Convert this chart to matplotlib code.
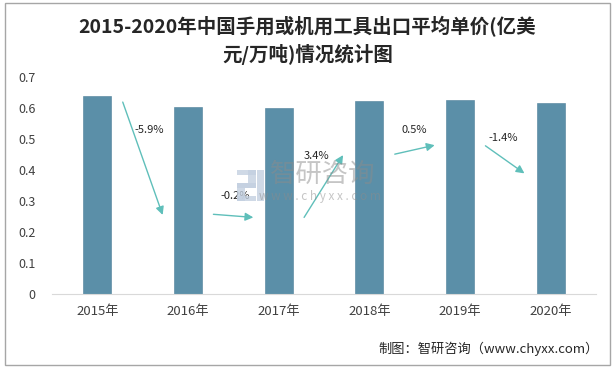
import matplotlib
matplotlib.use('Agg')
import matplotlib.pyplot as plt
from matplotlib.patches import Rectangle

plt.rcParams['font.family'] = ['Noto Sans CJK SC', 'DejaVu Sans']

years = ['2015年', '2016年', '2017年', '2018年', '2019年', '2020年']
prices = [0.641, 0.603, 0.602, 0.6225, 0.6255, 0.617]
growth_labels = ['-5.9%', '-0.2%', '3.4%', '0.5%', '-1.4%']

# arrow start, arrow end, label position (data coords)
arrow_pos = [
    ((0.28, 0.62), (0.72, 0.256), (0.57, 0.53)),
    ((1.28, 0.258), (1.72, 0.248), (1.52, 0.317)),
    ((2.28, 0.248), (2.71, 0.449), (2.42, 0.447)),
    ((3.28, 0.452), (3.72, 0.481), (3.50, 0.530)),
    ((4.28, 0.479), (4.71, 0.390), (4.48, 0.503)),
]

bar_color = '#5b8fa8'
arrow_color = '#5fbfba'

fig = plt.figure(figsize=(6.15, 3.68), dpi=100)
fig.patches.append(Rectangle((0.008, 0.008), 0.984, 0.984, transform=fig.transFigure,
                             fill=False, edgecolor='#a6a6a6', lw=1.0))

ax = fig.add_axes([0.0846, 0.2003, 0.8846, 0.5897])
x = list(range(len(years)))
ax.bar(x, prices, width=0.31, color=bar_color, edgecolor='#4d7f98', lw=0.4)
ax.set_xlim(-0.5, 5.5)
ax.set_ylim(0, 0.7)
ax.set_xticks(x)
ax.set_xticklabels(years, fontsize=9.5, color='#404040')
ax.set_yticks([0, 0.1, 0.2, 0.3, 0.4, 0.5, 0.6, 0.7])
ax.set_yticklabels(['0', '0.1', '0.2', '0.3', '0.4', '0.5', '0.6', '0.7'],
                   fontsize=9, color='#404040')
ax.tick_params(length=0, pad=8)
ax.tick_params(axis='y', pad=12)
for s in ['top', 'right', 'left']:
    ax.spines[s].set_visible(False)
ax.spines['bottom'].set_color('#d9d9d9')

for (start, end, lab_xy), lab in zip(arrow_pos, growth_labels):
    ax.annotate('', xy=end, xytext=start,
                arrowprops=dict(arrowstyle='-|>', color=arrow_color, lw=1.0,
                                mutation_scale=12, shrinkA=0, shrinkB=0))
    ax.text(lab_xy[0], lab_xy[1], lab, ha='center', va='center', fontsize=8,
            color='#262626')

# watermark: rough logo blocks + text
logo = '#c3d0e0'
for rx, ry, rw, rh in [(0.386, 0.525, 0.030, 0.012), (0.404, 0.49, 0.012, 0.047),
                       (0.386, 0.49, 0.030, 0.012), (0.386, 0.455, 0.012, 0.047),
                       (0.386, 0.455, 0.030, 0.012), (0.418, 0.455, 0.012, 0.082),
                       (0.398, 0.49, 0.006, 0.012)]:
    fig.patches.append(Rectangle((rx, ry), rw, rh, transform=fig.transFigure,
                                 color=logo, alpha=0.8, lw=0))
fig.text(0.525, 0.525, '智研咨询', ha='center', va='center', fontsize=19,
         color='#8c8c8c', alpha=0.5)
fig.text(0.520, 0.467, 'w w w . c h y x x . c o m', ha='center', va='center',
         fontsize=8.5, color='#8c8c8c', alpha=0.5)

fig.text(0.5, 0.927, '2015-2020年中国手用或机用工具出口平均单价(亿美', ha='center',
         va='center', fontsize=14, fontweight='bold', color='#262626')
fig.text(0.5, 0.851, '元/万吨)情况统计图', ha='center', va='center', fontsize=14,
         fontweight='bold', color='#262626')
fig.text(0.973, 0.052, '制图：智研咨询（www.chyxx.com）', ha='right', va='center',
         fontsize=9.5, color='#262626')

fig.savefig('out.png', dpi=100)
